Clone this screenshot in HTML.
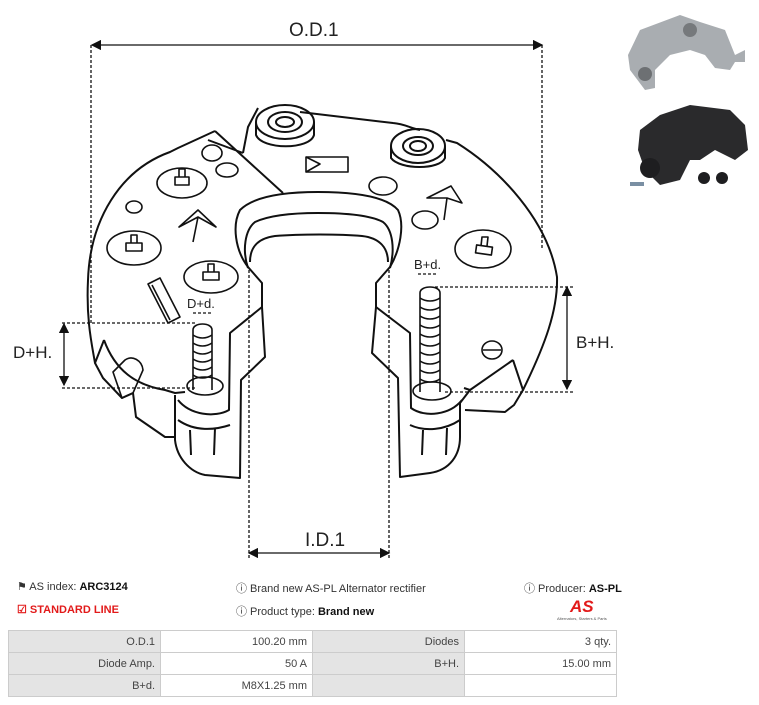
<!DOCTYPE html>
<html><head><meta charset="utf-8"><style>
body{margin:0;width:759px;height:705px;background:#fff;font-family:"Liberation Sans",sans-serif;position:relative;overflow:hidden}
.t{position:absolute;font-size:11px;color:#333;white-space:nowrap}
b{color:#111}
table{position:absolute;left:8px;top:630px;border-collapse:collapse;font-size:11px;color:#444}
td{border:1px solid #ccc;height:21px;padding:0 5px;text-align:right;width:141px}
td.g{background:#e4e4e4}
</style></head><body>
<svg width="759" height="570" style="position:absolute;left:0;top:0" fill="none" stroke="#111" stroke-width="2" stroke-linejoin="round">
<defs><marker id="a" markerWidth="8" markerHeight="8" refX="7" refY="4" orient="auto-start-reverse"><path d="M0,0L8,4L0,8z" fill="#111" stroke="none"/></marker></defs>
<g stroke-width="1.3">
<line x1="92" y1="45" x2="542" y2="45" marker-start="url(#a)" marker-end="url(#a)"/>
<line x1="249" y1="553" x2="389" y2="553" marker-start="url(#a)" marker-end="url(#a)"/>
<line x1="64" y1="324" x2="64" y2="385" marker-start="url(#a)" marker-end="url(#a)"/>
<line x1="567" y1="287" x2="567" y2="389" marker-start="url(#a)" marker-end="url(#a)"/>
<g stroke-dasharray="3,2">
<line x1="91" y1="45" x2="91" y2="325"/><line x1="542" y1="45" x2="542" y2="250"/>
<line x1="249" y1="270" x2="249" y2="560"/><line x1="389" y1="270" x2="389" y2="560"/>
<line x1="62" y1="323" x2="195" y2="323"/><line x1="62" y1="388" x2="195" y2="388"/>
<line x1="435" y1="287" x2="575" y2="287"/><line x1="445" y1="392" x2="575" y2="392"/>
<line x1="193" y1="313" x2="212" y2="313"/><line x1="418" y1="274" x2="438" y2="274"/>
</g></g>
<!-- outline -->
<path d="M215,131 L178,148 L170,152 C120,170 90,220 88,280 C86,320 92,345 95,363 L104,340"/>
<path d="M95,363 L103,378 L122,398 L133,393 L136,417 L165,437 L175,437"/>
<path d="M104,340 C115,370 135,385 165,390 L175,393 L185,392"/>
<path d="M125,360 C132,355 142,360 143,370 L133,393 L122,398 L113,372 Z" stroke-width="1.6"/>
<path d="M215,131 L283,193 M208,140 L243,153"/>
<path d="M243,153 L248,127 L258,108 M300,112 L393,123 C405,124 410,128 420,130"/>
<path d="M446,140 L457,143 C500,170 548,220 557,277 C558,310 545,345 523,390 L513,360"/>
<path d="M523,390 L514,405 L505,412 L465,410"/>
<path d="M513,360 L470,390"/>
<!-- bosses -->
<ellipse cx="285" cy="122" rx="29" ry="17"/><ellipse cx="285" cy="122" rx="17" ry="10"/><ellipse cx="285" cy="122" rx="9" ry="5"/>
<path d="M256,122 L256,135 C262,150 310,150 314,135 L314,122"/>
<ellipse cx="418" cy="146" rx="27" ry="17"/><ellipse cx="418" cy="146" rx="15" ry="9"/><ellipse cx="418" cy="146" rx="8" ry="5"/>
<path d="M391,146 L391,158 C400,170 440,170 445,158 L445,146"/>
<!-- hole -->
<path d="M248,267 C235,250 232,225 240,210 C255,195 290,192 318,192 C350,192 385,195 398,210 C405,225 400,250 390,267"/>
<path d="M248,268 C242,250 245,230 255,222 C270,215 295,213 318,213 C345,213 370,215 383,222 C393,230 395,250 390,268"/>
<path d="M250,262 C250,245 260,238 275,236 C300,234 340,234 362,236 C380,238 388,248 388,262"/>
<!-- inner skirts left -->
<path d="M248,267 L262,283 L262,307 L265,357 L241,380 L240,478 L205,475 C190,472 177,458 175,440 L175,395"/>
<path d="M262,307 L230,333 L229,410 C215,418 190,415 178,400"/>
<path d="M178,420 C195,432 215,430 230,425 M190,430 L191,455 M215,428 L214,455"/>
<!-- right -->
<path d="M390,267 L376,283 L376,307 L372,353 L398,378 L400,477 L430,473 C450,470 460,455 460,437 L460,403"/>
<path d="M376,307 L410,333 L411,408 C425,418 450,415 462,400"/>
<path d="M410,425 C425,432 445,430 460,420 M423,430 L422,455 M447,428 L446,455"/>
<path d="M460,403 L470,390 L464,388"/>
<g stroke-width="1.6">
<ellipse cx="182" cy="183" rx="25" ry="15"/><rect x="175" y="177" width="14" height="8"/><path d="M179,177v-8h6v8"/>
<ellipse cx="134" cy="248" rx="27" ry="17"/><rect x="126" y="243" width="16" height="8"/><path d="M131,243v-8h6v8"/>
<ellipse cx="211" cy="277" rx="27" ry="16"/><rect x="203" y="272" width="16" height="8"/><path d="M208,272v-8h6v8"/>
<ellipse cx="483" cy="249" rx="28" ry="19"/><rect x="476" y="246" width="16" height="8" transform="rotate(8 484 250)"/><path d="M481,246l1,-9h6l-1,9"/>
<ellipse cx="212" cy="153" rx="10" ry="8"/><ellipse cx="227" cy="170" rx="11" ry="7"/>
<ellipse cx="134" cy="207" rx="8" ry="6"/>
<ellipse cx="383" cy="186" rx="14" ry="9"/><ellipse cx="425" cy="220" rx="13" ry="9"/>
<ellipse cx="492" cy="350" rx="10" ry="9"/><path d="M483,350h18"/>
<rect x="306" y="157" width="42" height="15"/><path d="M306,157 L320,164 L306,172"/>
<path d="M179,227 L198,210 L216,227 L198,217 Z M198,217 L193,242"/>
<path d="M427,198 L451,186 L462,203 L447,198 Z M447,198 L444,220"/>
<path d="M148,284 L160,278 L180,317 L168,323 Z M152,285 L170,320"/>
</g>
<!-- screws -->
<g stroke-width="1.6">
<path d="M193,390 L193,330 C193,322 212,322 212,330 L212,390"/>
<path d="M193,335c6,4 13,4 19,0M193,343c6,4 13,4 19,0M193,351c6,4 13,4 19,0M193,359c6,4 13,4 19,0M193,367c6,4 13,4 19,0M193,375c6,4 13,4 19,0"/>
<ellipse cx="205" cy="386" rx="18" ry="9"/>
<path d="M420,392 L420,293 C420,285 440,285 440,293 L440,392"/>
<path d="M420,298c6,4 14,4 20,0M420,307c6,4 14,4 20,0M420,316c6,4 14,4 20,0M420,325c6,4 14,4 20,0M420,334c6,4 14,4 20,0M420,343c6,4 14,4 20,0M420,352c6,4 14,4 20,0M420,361c6,4 14,4 20,0M420,370c6,4 14,4 20,0M420,379c6,4 14,4 20,0"/>
<ellipse cx="432" cy="391" rx="19" ry="9"/>
</g>
<!-- photos -->
<g stroke="none">
<path d="M640,30 L680,15 L700,22 L725,30 L735,55 L745,50 L745,62 L735,62 L730,70 L715,68 L705,55 L690,50 L670,55 L655,70 L655,88 L645,90 L630,70 L628,55 Z" fill="#a9adb1"/>
<circle cx="645" cy="74" r="7" fill="#6d7073"/><circle cx="690" cy="30" r="7" fill="#76797c"/>
<path d="M640,130 L660,115 L690,105 L730,110 L745,125 L748,150 L735,160 L715,150 L700,160 L690,160 L680,180 L660,185 L645,170 L638,150 Z" fill="#2a2a2c"/>
<circle cx="650" cy="168" r="10" fill="#1e1e20"/><circle cx="704" cy="178" r="6" fill="#1e1e20"/><circle cx="722" cy="178" r="6" fill="#1e1e20"/>
<rect x="630" y="182" width="14" height="4" fill="#7a8fa3"/>
</g>
</svg>
<div class="t" style="left:289px;top:20px;font-size:19px;color:#222">O.D.1</div>
<div class="t" style="left:305px;top:530px;font-size:19px;color:#222">I.D.1</div>
<div class="t" style="left:13px;top:343px;font-size:17px;color:#222">D+H.</div>
<div class="t" style="left:576px;top:333px;font-size:17px;color:#222">B+H.</div>
<div class="t" style="left:187px;top:296px;font-size:13px;color:#222">D+d.</div>
<div class="t" style="left:414px;top:257px;font-size:13px;color:#222">B+d.</div>
<div class="t" style="left:17px;top:580px">&#9873; AS index: <b>ARC3124</b></div>
<div class="t" style="left:17px;top:603px;color:#e21a1a;font-weight:bold">&#9745; STANDARD LINE</div>
<div class="t" style="left:236px;top:580px">&#9432; Brand new AS-PL Alternator rectifier</div>
<div class="t" style="left:236px;top:603px">&#9432; Product type: <b>Brand new</b></div>
<div class="t" style="left:524px;top:580px">&#9432; Producer: <b>AS-PL</b></div>
<div class="t" style="left:570px;top:597px;color:#e21a1a;font-weight:bold;font-style:italic;font-size:17px">AS</div>
<div class="t" style="left:557px;top:616px;font-size:4px;color:#555">Alternators, Starters &amp; Parts</div>
<table>
<tr><td class="g">O.D.1</td><td>100.20 mm</td><td class="g">Diodes</td><td>3 qty.</td></tr>
<tr><td class="g">Diode Amp.</td><td>50 A</td><td class="g">B+H.</td><td>15.00 mm</td></tr>
<tr><td class="g">B+d.</td><td>M8X1.25 mm</td><td class="g"></td><td></td></tr>
</table>
</body></html>
